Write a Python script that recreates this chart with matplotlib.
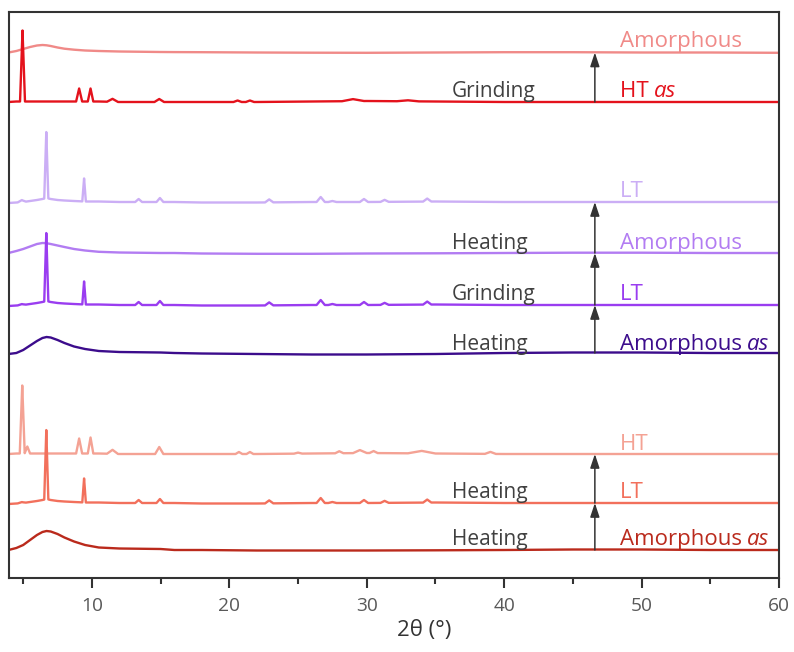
import numpy as np
import matplotlib
matplotlib.use("Agg")
import matplotlib.pyplot as plt

plt.rcParams['font.family'] = ['Open Sans', 'DejaVu Sans']

# common background grid (2theta) and per-pattern backgrounds (px above baseline)
bg_x = [3.93, 4.5, 5.0, 5.5, 6.0, 6.4, 6.7, 7.0, 7.5, 8.0, 8.7, 9.5, 10.5, 12, 15, 16,
        18, 22, 26, 30, 35, 40, 45, 50, 55, 60]

bg_amo_top = [0, 1.5, 3.5, 5.5, 7, 7.5, 7.2, 6.5, 5, 3.8, 2.8, 2, 1.5, 1, 0.5, 0.4,
              0.3, 0, -0.2, -0.3, 0, 0.3, 0.3, 0, 0, -0.3]
bg_amo_mid = [0, 2, 4, 6.5, 9, 10, 9.8, 9, 7.5, 6, 4, 2.5, 1.2, 0.5, 0, 0,
              -0.5, -0.8, -0.8, -0.5, -0.3, 0, 0.3, 0.3, 0, 0]
bg_amo_as_p = [-1, 0, 3, 7.5, 12, 15, 16, 15.5, 13, 10, 6.5, 4, 2, 1, 0.5, 0,
               -0.5, -1, -1.5, -1.5, -1, 0, 0.5, 0.5, 0, 0]
bg_amo_as_r = [0, 2, 5, 10, 15, 18, 19, 18.5, 16, 12.5, 8.5, 5, 2.5, 1.5, 1, 0,
               0, -0.5, -0.5, -0.5, -0.3, 0, 0.5, 0.5, 0, 0]
bg_ht = [0, 0.5, 0.5, 0.5, 0.5, 0.5, 0.5, 0.5, 0.5, 0.5, 0.5, 0.5, 0.5, 0, 0, 0,
         0, 0, 0.5, 1, 0.5, 0, 0, 0, 0, 0]
bg_lt = [-1, -0.5, 0, 1, 2, 3, 4, 3, 2, 1.5, 1, 0.5, 0.5, 0, 0, 0,
         -0.5, -0.5, 0, 0, 0.5, 0, 0, 0, 0, 0]

# peak lists: position, height, half width
ht_as_pos = [4.95, 9.07, 9.9, 11.5, 14.9, 20.6, 21.5, 29.0, 33.0]
ht_as_h = [71, 13, 13, 3, 3, 1.5, 1.5, 2, 1]
ht_as_w = [0.18, 0.22, 0.2, 0.4, 0.35, 0.3, 0.3, 0.8, 0.8]

ht_pos = [4.93, 5.3, 9.07, 9.9, 11.5, 14.9, 20.7, 21.5, 25.0, 28.0, 29.5, 30.5, 34.0, 39.0]
ht_h = [68, 7, 15, 16, 4, 7, 2, 2, 1, 2, 3, 2, 2.5, 2]
ht_w = [0.18, 0.2, 0.22, 0.2, 0.4, 0.3, 0.25, 0.25, 0.3, 0.3, 0.5, 0.3, 1.0, 0.4]

lt_pos = [4.9, 6.68, 9.43, 13.4, 14.95, 22.9, 26.65, 27.5, 29.8, 31.3, 34.4]
lt_h_top = [2, 66, 23, 3, 4, 3, 5, 1, 3, 2, 3]
lt_h_mid = [1, 68, 23, 3, 4, 3, 5, 1, 3, 2, 3]
lt_h_bot = [1, 69, 24, 3, 4, 3, 5, 1, 3, 2, 3]
lt_w = [0.3, 0.15, 0.13, 0.25, 0.25, 0.3, 0.3, 0.3, 0.3, 0.3, 0.3]

no_pos, no_h, no_w = [], [], []

# offsets (px from bottom of the frame), colours
traces = [
    (bg_amo_top, no_pos, no_h, no_w, 525.5, "#F08A88"),
    (bg_ht, ht_as_pos, ht_as_h, ht_as_w, 476, "#E4121C"),
    (bg_lt, lt_pos, lt_h_top, lt_w, 376, "#CBAEF5"),
    (bg_amo_mid, no_pos, no_h, no_w, 325, "#B27CF2"),
    (bg_lt, lt_pos, lt_h_mid, lt_w, 273, "#9A3DF0"),
    (bg_amo_as_p, no_pos, no_h, no_w, 225, "#3C0C8C"),
    (bg_ht, ht_pos, ht_h, ht_w, 124, "#F4A294"),
    (bg_lt, lt_pos, lt_h_bot, lt_w, 75, "#F2705C"),
    (bg_amo_as_r, no_pos, no_h, no_w, 28, "#BA2A1C"),
]

phase_names = ["Amorphous", "HT", "LT", "Amorphous", "LT", "Amorphous", "HT", "LT", "Amorphous"]
phase_italic = ["", "as", "", "", "", "as", "", "", "as"]
label_y = [531, 481, 381, 329, 278, 228, 128, 80, 33]

steps = ["Grinding", "Heating", "Grinding", "Heating", "Heating", "Heating"]
step_y = [481, 329, 278, 228, 80, 33]
arrows = [(476, 525.5), (325, 376), (273, 325), (225, 273), (75, 124), (28, 75)]


def profile(bg, pos, h, w):
    xs = list(bg_x)
    for p, ww in zip(pos, w):
        xs += [p - ww, p, p + ww]
    xs = np.array(sorted(xs))
    ys = np.interp(xs, bg_x, bg)
    for p, hh, ww in zip(pos, h, w):
        ys = ys + hh * np.clip(1 - np.abs(xs - p) / ww, 0, None)
    return xs, ys


fig = plt.figure(figsize=(7.94, 6.52), dpi=100)
ax = fig.add_axes([8.5 / 794, 1 - 578 / 652, (779 - 8.5) / 794, (578 - 12) / 652])

for bg, pos, h, w, off, col in traces:
    x, y = profile(bg, pos, h, w)
    ax.plot(x, y + off, color=col, lw=1.7, solid_joinstyle='round')

for (name, it, ly, tr) in zip(phase_names, phase_italic, label_y, traces):
    col = tr[5]
    t = ax.text(48.4, ly, name + (" " if it else ""), color=col, fontsize=16, va='baseline')
    if it:
        ax.annotate(it, xy=(1, 0), xycoords=t, va='bottom', ha='left',
                    color=col, fontsize=16, style='italic')

for s, sy in zip(steps, step_y):
    ax.text(36.2, sy, s, color="#404040", fontsize=15, va='baseline')

for lo, hi in arrows:
    ax.annotate("", xy=(46.6, hi), xytext=(46.6, lo),
                arrowprops=dict(arrowstyle='-|>,head_length=0.6,head_width=0.2',
                                color='#333333', lw=1.1, mutation_scale=14,
                                shrinkA=0, shrinkB=0))

ax.set_xlim(3.93, 60)
ax.set_ylim(0, 566)
ax.set_yticks([])
ax.set_xticks([10, 20, 30, 40, 50, 60])
ax.set_xticks([5, 15, 25, 35, 45, 55], minor=True)
ax.tick_params(axis='x', which='major', direction='out', length=7, width=1.5,
               color='#333333', labelsize=13.8, labelcolor='#595959', pad=7)
ax.tick_params(axis='x', which='minor', direction='out', length=4, width=1.5, color='#333333')
for sp in ax.spines.values():
    sp.set_color('#333333')
    sp.set_linewidth(1.5)
ax.set_xlabel("2θ (°)", fontsize=16, color='#333333')
ax.xaxis.set_label_coords(0.54, -0.075)

fig.savefig("out.png", dpi=100)
